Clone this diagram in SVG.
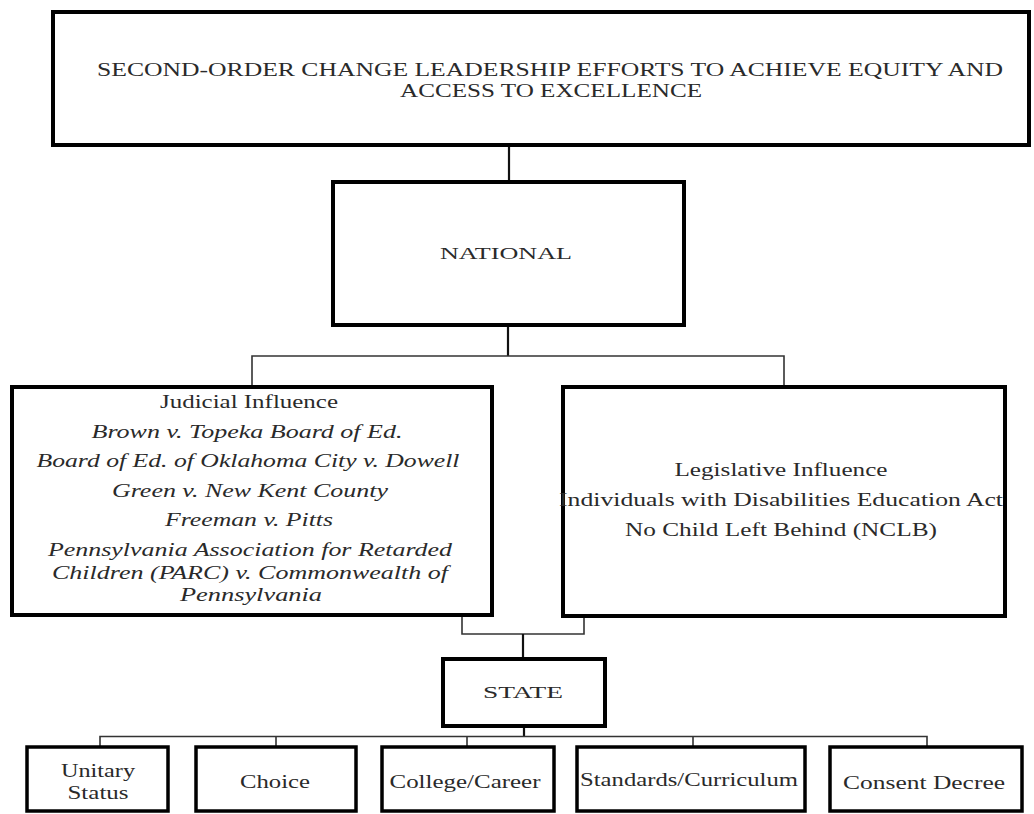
<svg xmlns="http://www.w3.org/2000/svg" width="1034" height="814" viewBox="0 0 1034 814">
<style>
.box{fill:#fff;stroke:#000;stroke-width:4}
.sbox{fill:#fff;stroke:#000;stroke-width:3.5}
.c{fill:none;stroke:#333;stroke-width:1.6}
.ct{fill:none;stroke:#111;stroke-width:2.2}
text{font-family:"Liberation Serif","Times New Roman",serif;fill:#2a2a2a;text-anchor:middle}
.it{font-style:italic}
</style>
<rect width="1034" height="814" fill="#fff"/>
<g id="connectors">
<path class="ct" d="M509 145V182"/>
<path class="ct" d="M508 325V356"/>
<path class="c" d="M252 387V356H784V387"/>
<path class="c" d="M462 615V634H584V616"/>
<path class="ct" d="M523 634V659"/>
<path class="ct" d="M524 726V736.5"/>
<path class="c" d="M100 747V736.5H927V747M276 736.5V747M467 736.5V747M693 736.5V747"/>
</g>
<g id="title">
<rect class="box" x="53" y="12" width="976" height="133"/>
<text x="550" y="76" font-size="18" textLength="906" lengthAdjust="spacingAndGlyphs">SECOND-ORDER CHANGE LEADERSHIP EFFORTS TO ACHIEVE EQUITY AND</text>
<text x="551" y="97" font-size="18" textLength="302" lengthAdjust="spacingAndGlyphs">ACCESS TO EXCELLENCE</text>
</g>
<g id="national">
<rect class="box" x="333" y="182" width="351" height="143"/>
<text x="506" y="259" font-size="17" textLength="132" lengthAdjust="spacingAndGlyphs">NATIONAL</text>
</g>
<g id="judicial">
<rect class="box" x="12" y="387" width="480" height="228"/>
<text x="249" y="408" font-size="18" textLength="178" lengthAdjust="spacingAndGlyphs">Judicial  Influence</text>
<text class="it" x="247" y="438" font-size="19" textLength="311" lengthAdjust="spacingAndGlyphs">Brown v. Topeka Board of Ed.</text>
<text class="it" x="248" y="467" font-size="19" textLength="423" lengthAdjust="spacingAndGlyphs">Board of Ed. of Oklahoma City v. Dowell</text>
<text class="it" x="250" y="497" font-size="19" textLength="276" lengthAdjust="spacingAndGlyphs">Green v. New Kent County</text>
<text class="it" x="249" y="526" font-size="19" textLength="168" lengthAdjust="spacingAndGlyphs">Freeman v. Pitts</text>
<text class="it" x="250" y="556" font-size="19" textLength="404" lengthAdjust="spacingAndGlyphs">Pennsylvania Association for Retarded</text>
<text class="it" x="250" y="579" font-size="19" textLength="396" lengthAdjust="spacingAndGlyphs">Children (PARC) v. Commonwealth of</text>
<text class="it" x="251" y="601" font-size="19" textLength="142" lengthAdjust="spacingAndGlyphs">Pennsylvania</text>
</g>
<g id="legislative">
<rect class="box" x="563" y="387" width="442" height="229"/>
<text x="781" y="476" font-size="18" textLength="213" lengthAdjust="spacingAndGlyphs">Legislative  Influence</text>
<text x="781" y="506" font-size="18" textLength="444" lengthAdjust="spacingAndGlyphs">Individuals  with Disabilities  Education Act</text>
<text x="781" y="536" font-size="18" textLength="312" lengthAdjust="spacingAndGlyphs">No Child  Left Behind  (NCLB)</text>
</g>
<g id="state">
<rect class="box" x="443" y="659" width="162" height="67"/>
<text x="523" y="698" font-size="17" textLength="80" lengthAdjust="spacingAndGlyphs">STATE</text>
</g>
<g id="unitary">
<rect class="sbox" x="27" y="747" width="141" height="64"/>
<text x="98" y="777" font-size="18" textLength="74" lengthAdjust="spacingAndGlyphs">Unitary</text>
<text x="98" y="799" font-size="18" textLength="61" lengthAdjust="spacingAndGlyphs">Status</text>
</g>
<g id="choice">
<rect class="sbox" x="196" y="747" width="160" height="64"/>
<text x="275" y="788" font-size="18" textLength="70" lengthAdjust="spacingAndGlyphs">Choice</text>
</g>
<g id="college">
<rect class="sbox" x="382" y="747" width="172" height="64"/>
<text x="465" y="788" font-size="18" textLength="151" lengthAdjust="spacingAndGlyphs">College/Career</text>
</g>
<g id="standards">
<rect class="sbox" x="577" y="747" width="228" height="64"/>
<text x="689" y="786" font-size="18" textLength="218" lengthAdjust="spacingAndGlyphs">Standards/Curriculum</text>
</g>
<g id="consent">
<rect class="sbox" x="830" y="747" width="192" height="64"/>
<text x="924" y="789" font-size="18" textLength="162" lengthAdjust="spacingAndGlyphs">Consent Decree</text>
</g>
</svg>
